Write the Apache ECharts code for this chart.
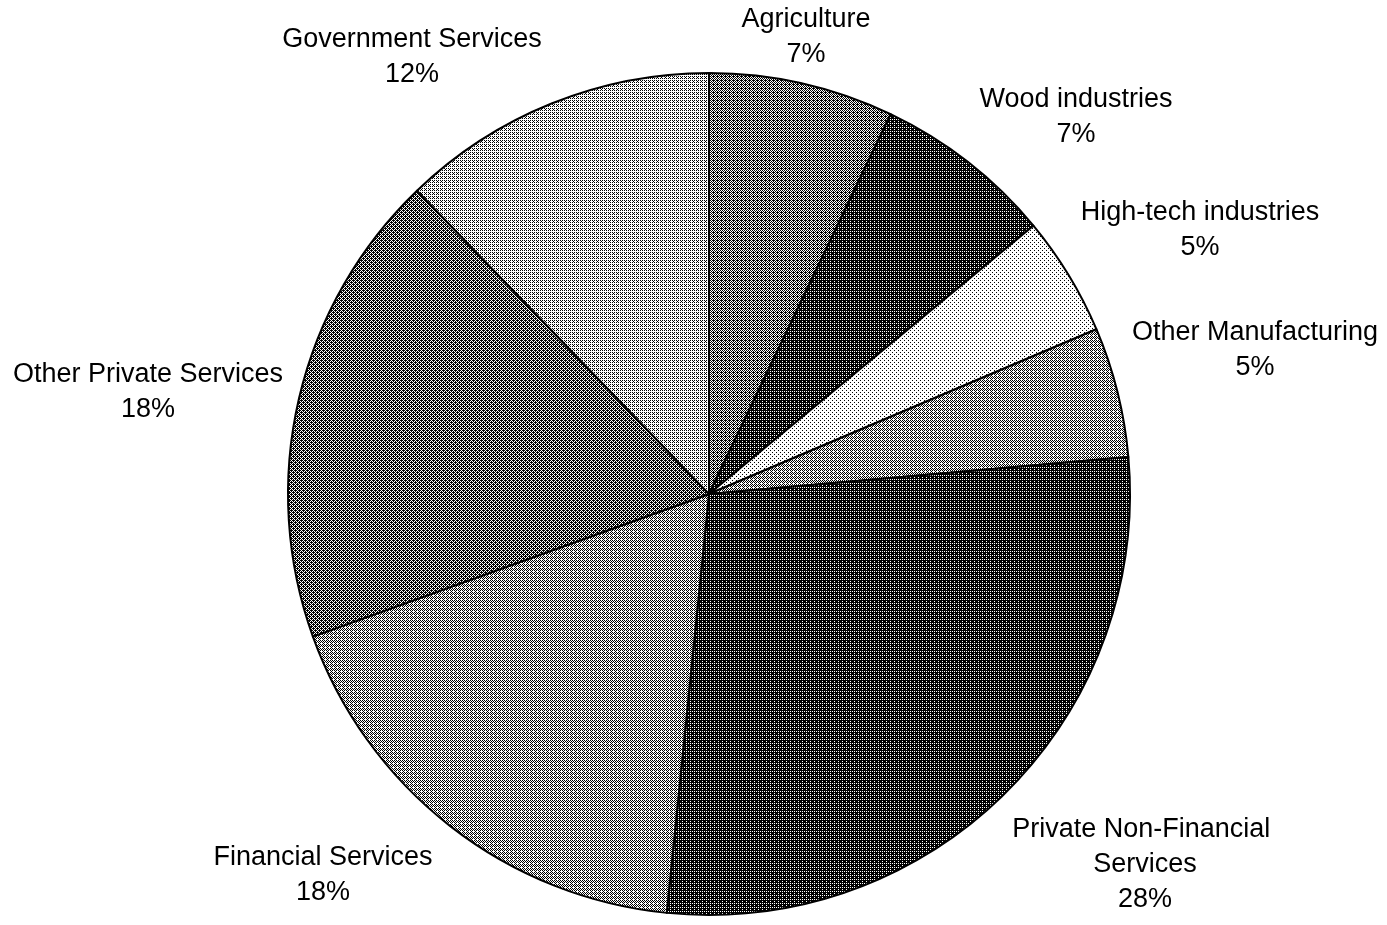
<!DOCTYPE html>
<html>
<head>
<meta charset="utf-8">
<script src="https://cdn.jsdelivr.net/npm/echarts@6/dist/echarts.min.js"></script>
<style>
html,body{margin:0;padding:0;background:#fff;}
#chart{width:1387px;height:925px;}
</style>
</head>
<body>
<div id="chart"></div>
<script>
// ---- data ----
const categories = ['Agriculture','Wood industries','High-tech industries','Other Manufacturing',
  'Private Non-Financial Services','Financial Services','Other Private Services','Government Services'];
const shares = [7.1, 6.9, 4.6, 5.0, 28.0, 17.9, 18.3, 12.2];

// ---- styles ----
const darkness = [0.58, 0.80, 0.14, 0.46, 0.84, 0.42, 0.65, 0.32];
const labelPos = [[806,37],[1076,117],[1200,230],[1255,350],[1145,865],[323,875],[148,392],[412,57]];

function ditherPattern(d){
  const bayer=[[0,8,2,10],[12,4,14,6],[3,11,1,9],[15,7,13,5]];
  const c=document.createElement('canvas'); c.width=4; c.height=4;
  const ctx=c.getContext('2d');
  ctx.fillStyle='#fff'; ctx.fillRect(0,0,4,4);
  ctx.fillStyle='#000';
  for(let y=0;y<4;y++)for(let x=0;x<4;x++){
    if((bayer[y][x]+0.5)/16<d) ctx.fillRect(x,y,1,1);
  }
  return {image:c, repeat:'repeat'};
}

const data = categories.map((n,i)=>{
  const item={name:n,value:shares[i],itemStyle:{color:ditherPattern(darkness[i])}};
  if(n==='Private Non-Financial Services') item.label={width:280,overflow:'break'};
  return item;
});

const chart = echarts.init(document.getElementById('chart'),null,{renderer:'canvas'});
chart.setOption({
  animation:false,
  backgroundColor:'#fff',
  series:[{
    type:'pie',
    center:[709,494],
    radius:421,
    startAngle:90,
    clockwise:true,
    avoidLabelOverlap:false,
    itemStyle:{borderColor:'#000',borderWidth:2},
    label:{
      show:true,position:'outside',
      fontFamily:'Liberation Sans, Arial, sans-serif',
      fontSize:27,lineHeight:35,color:'#000',align:'center',
      formatter:p=>p.name+'\n'+Math.round(p.percent)+'%'
    },
    labelLine:{show:false},
    labelLayout:function(p){
      const pos=labelPos[p.dataIndex];
      return {x:pos[0],y:pos[1],align:'center',verticalAlign:'middle'};
    },
    emphasis:{disabled:true},
    data:data
  }]
});
</script>
</body>
</html>
